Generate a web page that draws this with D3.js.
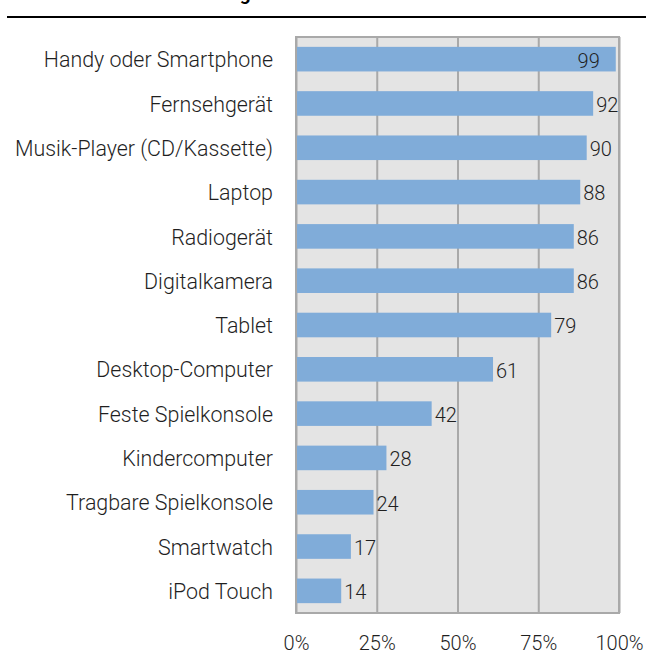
<!DOCTYPE html>
<html>
<head>
<meta charset="utf-8">
<script src="https://cdn.jsdelivr.net/npm/d3@7"></script>
<style>
  html, body { margin: 0; padding: 0; background: #ffffff; }
  svg { display: block; }
  text { font-family: Roboto, "Noto Sans", sans-serif; }
</style>
</head>
<body>
<svg id="chart" width="646" height="653"></svg>
<script>
// Device ownership by household (share in %)
const categories = [
  "Handy oder Smartphone",
  "Fernsehgerät",
  "Musik-Player (CD/Kassette)",
  "Laptop",
  "Radiogerät",
  "Digitalkamera",
  "Tablet",
  "Desktop-Computer",
  "Feste Spielkonsole",
  "Kindercomputer",
  "Tragbare Spielkonsole",
  "Smartwatch",
  "iPod Touch"
];
const values = [99, 92, 90, 88, 86, 86, 79, 61, 42, 28, 24, 17, 14];
const tickValues = [0, 25, 50, 75, 100];
const tickLabels = ["0%", "25%", "50%", "75%", "100%"];
const titleText = "Geräteausstattung der Haushalte";

const svg = d3.select("#chart");
const margin = { top: 37, right: 27, bottom: 40, left: 296 };
const W = 646, H = 653;
const plotW = W - margin.left - margin.right;   // 323
const plotH = H - margin.top - margin.bottom;   // 576

const x = d3.scaleLinear().domain([0, 100]).range([margin.left, margin.left + plotW]);
const y = d3.scaleBand().domain(categories).range([margin.top, margin.top + plotH])
  .paddingInner(0.445).paddingOuter(0.2225);

// Heading (runs off the top edge) and rule beneath it
svg.append("text")
  .attr("x", 92).attr("y", -0.5)
  .attr("font-size", 19).attr("font-weight", "bold").attr("fill", "#000")
  .text(titleText);
svg.append("text")
  .attr("x", 15).attr("y", -0.5)
  .attr("font-size", 19).attr("font-weight", "bold").attr("fill", "#000")
  .text("3");
svg.append("line")
  .attr("x1", 7).attr("x2", W).attr("y1", 17).attr("y2", 17)
  .attr("stroke", "#000").attr("stroke-width", 2);

// Plot background
svg.append("rect")
  .attr("x", margin.left).attr("y", margin.top)
  .attr("width", plotW).attr("height", plotH)
  .attr("fill", "#e4e4e4");

// Vertical gridlines
const gridAxis = d3.axisBottom(x).tickValues(tickValues).tickSize(-plotH).tickFormat("");
const grid = svg.append("g")
  .attr("transform", `translate(0,${margin.top + plotH})`)
  .call(gridAxis);
grid.select(".domain").remove();
grid.selectAll(".tick line").attr("stroke", "#a9a9a9").attr("stroke-width", 2);

// Plot border
svg.append("rect")
  .attr("x", margin.left).attr("y", margin.top)
  .attr("width", plotW).attr("height", plotH)
  .attr("fill", "none").attr("stroke", "#a9a9a9").attr("stroke-width", 2);

// Bars
svg.append("g").selectAll("rect")
  .data(values)
  .join("rect")
  .attr("x", x(0) + 1)
  .attr("y", (d, i) => y(categories[i]))
  .attr("width", d => x(d) - x(0) - 1)
  .attr("height", y.bandwidth())
  .attr("fill", "#80acd9");

// Value labels
svg.append("g").selectAll("text")
  .data(values)
  .join("text")
  .attr("x", d => d >= 95 ? x(d) - 16 : x(d) + 3)
  .attr("y", (d, i) => y(categories[i]) + y.bandwidth() / 2)
  .attr("dy", "0.42em")
  .attr("text-anchor", d => d >= 95 ? "end" : "start")
  .attr("font-size", 20).attr("font-weight", 300).attr("fill", "#1f1f1f")
  .text(d => d);

// Category labels
const yAxis = d3.axisLeft(y).tickSize(0).tickPadding(0);
const yg = svg.append("g")
  .attr("transform", `translate(${margin.left - 23},0)`)
  .call(yAxis);
yg.select(".domain").remove();
yg.selectAll(".tick text")
  .attr("font-size", 21.4).attr("font-weight", 300).attr("fill", "#1f1f1f")
  .attr("font-family", "Roboto, 'Noto Sans', sans-serif")
  .attr("dy", "0.38em");

// Percentage axis labels
const xAxis = d3.axisBottom(x).tickValues(tickValues).tickSize(0).tickPadding(0)
  .tickFormat((d, i) => tickLabels[i]);
const xg = svg.append("g")
  .attr("transform", `translate(0,650)`)
  .call(xAxis);
xg.select(".domain").remove();
xg.selectAll(".tick text")
  .attr("y", 0).attr("dy", 0)
  .attr("font-size", 20).attr("font-weight", 300).attr("fill", "#1f1f1f")
  .attr("font-family", "Roboto, 'Noto Sans', sans-serif");
</script>
</body>
</html>
